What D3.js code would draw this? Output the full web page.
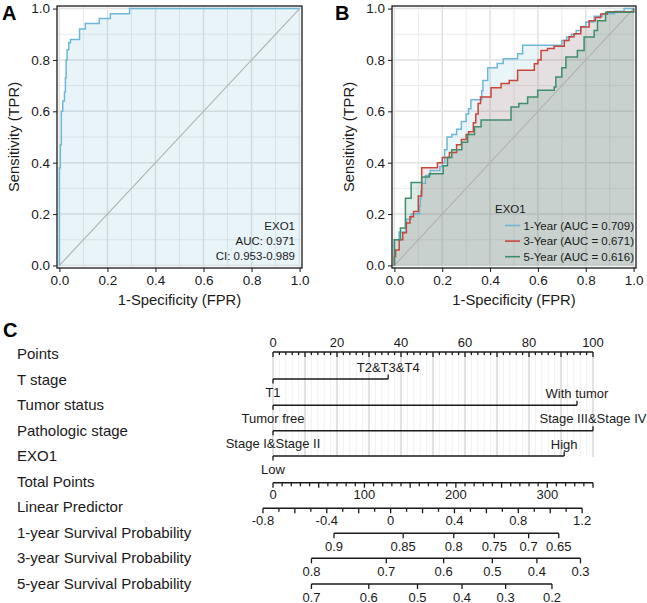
<!DOCTYPE html>
<html>
<head>
<meta charset="utf-8">
<script src="https://cdn.jsdelivr.net/npm/d3@7"></script>
<style>
  body { margin: 0; background: #fff; }
  svg { font-family: "Liberation Sans", Arial, sans-serif; }
</style>
</head>
<body>
<div id="chart"></div>
<script>
// ---- data ----
// panel A: ROC of EXO1 (fpr / tpr step corners)
const aFpr = [0, 0, 0.004, 0.008, 0.014, 0.021, 0.025, 0.028, 0.032, 0.039, 0.046, 0.084, 0.108, 0.166, 0.212, 0.292, 1.0];
const aTpr = [0, 0.38, 0.47, 0.60, 0.64, 0.675, 0.73, 0.80, 0.84, 0.867, 0.88, 0.92, 0.942, 0.961, 0.98, 1.0, 1.0];
const aLabels = ["EXO1", "AUC: 0.971", "CI: 0.953-0.989"];

// panel B: time dependent ROC
const y1Fpr = [0, 0, 0.02, 0.05, 0.07, 0.105, 0.108, 0.111, 0.114, 0.13, 0.15, 0.19, 0.2, 0.21, 0.22, 0.24, 0.26, 0.28, 0.3, 0.31, 0.32, 0.365, 0.37, 0.39, 0.43, 0.455, 0.515, 0.536, 0.7, 0.72, 0.74, 0.76, 0.78, 0.8, 0.835, 0.87, 0.92, 0.96, 1.0];
const y1Tpr = [0, 0.1, 0.13, 0.18, 0.2, 0.23, 0.26, 0.29, 0.32, 0.35, 0.37, 0.385, 0.4, 0.45, 0.5, 0.51, 0.53, 0.56, 0.59, 0.61, 0.645, 0.68, 0.72, 0.77, 0.786, 0.805, 0.824, 0.857, 0.876, 0.889, 0.9, 0.915, 0.93, 0.948, 0.97, 0.98, 0.99, 1.0, 1.0];
const y3Fpr = [0, 0, 0.005, 0.02, 0.035, 0.05, 0.065, 0.08, 0.1, 0.114, 0.18, 0.2, 0.23, 0.26, 0.28, 0.3, 0.31, 0.33, 0.34, 0.35, 0.36, 0.404, 0.446, 0.48, 0.515, 0.585, 0.6, 0.613, 0.64, 0.668, 0.71, 0.73, 0.751, 0.779, 0.814, 0.84, 0.8625, 0.89, 1.0];
const y3Tpr = [0, 0.035, 0.06, 0.1, 0.127, 0.165, 0.19, 0.21, 0.27, 0.38, 0.4, 0.42, 0.44, 0.47, 0.49, 0.51, 0.52, 0.555, 0.59, 0.63, 0.656, 0.692, 0.708, 0.72, 0.76, 0.785, 0.8, 0.837, 0.845, 0.853, 0.876, 0.89, 0.902, 0.928, 0.953, 0.965, 0.979, 0.988, 1.0];
const y5Fpr = [0, 0, 0.025, 0.046, 0.07, 0.114, 0.146, 0.204, 0.222, 0.24, 0.282, 0.306, 0.335, 0.3625, 0.42, 0.4875, 0.52, 0.557, 0.599, 0.668, 0.675, 0.7, 0.717, 0.765, 0.793, 0.835, 0.849, 0.883, 1.0];
const y5Tpr = [0, 0.1, 0.146, 0.262, 0.323, 0.344, 0.357, 0.388, 0.42, 0.45, 0.48, 0.51, 0.54, 0.566, 0.566, 0.617, 0.63, 0.656, 0.682, 0.695, 0.734, 0.77, 0.811, 0.837, 0.889, 0.915, 0.953, 0.986, 1.0];
const bSeries = ["1-Year (AUC = 0.709)", "3-Year (AUC = 0.671)", "5-Year (AUC = 0.616)"];
const bColors = ["#6cb8d6", "#c8453a", "#3e8e6c"];
const bFillOpacity = [0.14, 0.12, 0.17];

// panel C: nomogram
const rowNames = ["Points", "T stage", "Tumor status", "Pathologic stage", "EXO1", "Total Points",
  "Linear Predictor", "1-year Survival Probability", "3-year Survival Probability", "5-year Survival Probability"];
const tStageLevels = ["T1", "T2&T3&T4"], tStagePts = [0, 36];
const tumorLevels = ["Tumor free", "With tumor"], tumorPts = [0, 95];
const pathLevels = ["Stage I&Stage II", "Stage III&Stage IV"], pathPts = [0, 100];
const exoLevels = ["Low", "High"], exoPts = [0, 91];
const totalMax = 350;
const lpTicks = [-0.8, -0.4, 0, 0.4, 0.8, 1.2];
const lpAtZero = -0.737, lpAtMax = 1.268;   // linear predictor at total points 0 and 350
const surv1Ticks = [0.9, 0.85, 0.8, 0.75, 0.7, 0.65];
const surv3Ticks = [0.8, 0.7, 0.6, 0.5, 0.4, 0.3];
const surv5Ticks = [0.7, 0.6, 0.5, 0.4, 0.3, 0.2];
const baseSurv = [0.8605, 0.6932, 0.5567];   // baseline survival at 1, 3, 5 years

// ---- svg ----
const W = 647, H = 603;
const svg = d3.select("#chart").append("svg").attr("width", W).attr("height", H);
const ink = "#1a1a1a";

function rocPanel(left, right, letter, letterX) {
  const x = d3.scaleLinear().domain([-0.01, 1.01]).range([left, right]);
  const y = d3.scaleLinear().domain([-0.01, 1.01]).range([268, 6]);
  const g = svg.append("g");
  // grid
  const minor = d3.range(0.1, 1, 0.2), major = d3.range(0, 1.01, 0.2);
  g.selectAll(".gx").data(minor).enter().append("line")
    .attr("x1", d => x(d)).attr("x2", d => x(d)).attr("y1", y.range()[0]).attr("y2", y.range()[1])
    .attr("stroke", "#eaeaea").attr("stroke-width", 1);
  g.selectAll(".gy").data(minor).enter().append("line")
    .attr("y1", d => y(d)).attr("y2", d => y(d)).attr("x1", left).attr("x2", right)
    .attr("stroke", "#eaeaea").attr("stroke-width", 1);
  g.selectAll(".Gx").data(major).enter().append("line")
    .attr("x1", d => x(d)).attr("x2", d => x(d)).attr("y1", y.range()[0]).attr("y2", y.range()[1])
    .attr("stroke", "#e1e1e1").attr("stroke-width", 1.5);
  g.selectAll(".Gy").data(major).enter().append("line")
    .attr("y1", d => y(d)).attr("y2", d => y(d)).attr("x1", left).attr("x2", right)
    .attr("stroke", "#e1e1e1").attr("stroke-width", 1.5);
  // axes
  const fmt = d3.format(".1f");
  g.append("g").attr("transform", `translate(0,${y.range()[0]})`)
    .call(d3.axisBottom(x).tickValues(major).tickFormat(fmt).tickSize(4).tickPadding(3))
    .call(a => a.select(".domain").remove())
    .call(a => a.selectAll("text").attr("font-size", 13.5).attr("fill", ink).attr("font-family", null))
    .call(a => a.selectAll("line").attr("stroke", ink));
  g.append("g").attr("transform", `translate(${left},0)`)
    .call(d3.axisLeft(y).tickValues(major).tickFormat(fmt).tickSize(4).tickPadding(3))
    .call(a => a.select(".domain").remove())
    .call(a => a.selectAll("text").attr("font-size", 13.5).attr("fill", ink).attr("font-family", null))
    .call(a => a.selectAll("line").attr("stroke", ink));
  g.append("text").attr("x", (left + right) / 2).attr("y", 305).attr("text-anchor", "middle")
    .attr("font-size", 14.8).attr("fill", ink).text("1-Specificity (FPR)");
  g.append("text").attr("transform", `translate(${left - 38},137) rotate(-90)`).attr("text-anchor", "middle")
    .attr("font-size", 14.8).attr("fill", ink).text("Sensitivity (TPR)");
  g.append("text").attr("x", letterX).attr("y", 20).attr("font-size", 20).attr("font-weight", "bold")
    .attr("fill", "#000").text(letter);
  return {g, x, y};
}

function drawRoc(p, fpr, tpr, color, op) {
  const pts = fpr.map((f, i) => [f, tpr[i]]);
  const area = d3.area().curve(d3.curveStepAfter)
    .x(d => p.x(d[0])).y0(p.y(0)).y1(d => p.y(d[1]));
  p.g.append("path").datum(pts).attr("d", area).attr("fill", color).attr("fill-opacity", op);
  return pts;
}
function drawRocLine(p, pts, color) {
  const line = d3.line().curve(d3.curveStepAfter).x(d => p.x(d[0])).y(d => p.y(d[1]));
  p.g.append("path").datum(pts).attr("d", line).attr("fill", "none")
    .attr("stroke", color).attr("stroke-width", 1.5);
}
function diag(p) {
  p.g.append("line").attr("x1", p.x(0)).attr("y1", p.y(0)).attr("x2", p.x(1)).attr("y2", p.y(1))
    .attr("stroke", "#b0b0b0").attr("stroke-width", 1.1);
}
function frame(p) {
  p.g.append("rect").attr("x", p.x.range()[0]).attr("y", p.y.range()[1])
    .attr("width", p.x.range()[1] - p.x.range()[0]).attr("height", p.y.range()[0] - p.y.range()[1])
    .attr("fill", "none").attr("stroke", ink).attr("stroke-width", 1.3);
}

// panel A
const pA = rocPanel(57, 302, "A", 2);
const ptsA = drawRoc(pA, aFpr, aTpr, "#6cb8d6", 0.15);
diag(pA);
drawRocLine(pA, ptsA, "#6cb8d6");
frame(pA);
pA.g.selectAll(".ann").data(aLabels).enter().append("text")
  .attr("x", 295).attr("y", (d, i) => 230 + i * 15).attr("text-anchor", "end")
  .attr("font-size", 11.5).attr("fill", ink).text(d => d);

// panel B
const pB = rocPanel(392, 636, "B", 335);
const bData = [[y1Fpr, y1Tpr], [y3Fpr, y3Tpr], [y5Fpr, y5Tpr]];
const bPts = bData.map((d, i) => drawRoc(pB, d[0], d[1], bColors[i], bFillOpacity[i]));
diag(pB);
bPts.forEach((pts, i) => drawRocLine(pB, pts, bColors[i]));
frame(pB);
pB.g.append("text").attr("x", 495).attr("y", 212.5).attr("font-size", 11.5).attr("fill", ink).text("EXO1");
const leg = pB.g.selectAll(".leg").data(bSeries).enter().append("g")
  .attr("transform", (d, i) => `translate(0,${229.5 + i * 15.6})`);
leg.append("line").attr("x1", 505).attr("x2", 520).attr("y1", -4).attr("y2", -4)
  .attr("stroke", (d, i) => bColors[i]).attr("stroke-width", 1.6);
leg.append("text").attr("x", 523.5).attr("font-size", 11.5).attr("fill", ink).text(d => d);

// panel C: nomogram
const gC = svg.append("g");
gC.append("text").attr("x", 3).attr("y", 337).attr("font-size", 20).attr("font-weight", "bold").text("C");
const rowBase = 359, rowStep = 25.5;
gC.selectAll(".rowname").data(rowNames).enter().append("text")
  .attr("x", 17).attr("y", (d, i) => rowBase + i * rowStep)
  .attr("font-size", 15).attr("fill", ink).text(d => d);

const xPts = d3.scaleLinear().domain([0, 100]).range([273, 593]);
const xTot = d3.scaleLinear().domain([0, totalMax]).range(xPts.range());
const xLp = d3.scaleLinear().domain([lpAtZero, lpAtMax]).range(xPts.range());
const lineY = [352, 379, 405.3, 430.7, 456, 482.7, 508.3, 533.3, 558.3, 584];

// vertical guide lines
gC.selectAll(".vminor").data(d3.range(0, 101, 2)).enter().append("line")
  .attr("x1", d => xPts(d)).attr("x2", d => xPts(d)).attr("y1", lineY[0]).attr("y2", 457)
  .attr("stroke", d => d % 10 === 0 ? "#cfcfcf" : "#ececec").attr("stroke-width", d => d % 10 === 0 ? 1.2 : 0.8);

function hline(g, x1, x2, y) {
  g.append("line").attr("x1", x1).attr("x2", x2).attr("y1", y).attr("y2", y)
    .attr("stroke", ink).attr("stroke-width", 1.5);
}
function tick(g, x, y, len) {
  g.append("line").attr("x1", x).attr("x2", x).attr("y1", y).attr("y2", y + len)
    .attr("stroke", ink).attr("stroke-width", 1.3);
}
function label(g, x, y, t) {
  g.append("text").attr("x", x).attr("y", y).attr("text-anchor", "middle")
    .attr("font-size", 13).attr("fill", ink).text(t);
}

// Points axis
hline(gC, xPts(0), xPts(100), lineY[0]);
d3.range(0, 101, 2).forEach(v => tick(gC, xPts(v), lineY[0], v % 10 === 0 ? 5 : 3));
d3.range(0, 101, 20).forEach(v => label(gC, xPts(v), lineY[0] - 5.5, v));

// categorical rows
[[tStageLevels, tStagePts], [tumorLevels, tumorPts], [pathLevels, pathPts], [exoLevels, exoPts]]
  .forEach((row, r) => {
    const y = lineY[r + 1];
    const [levels, pts] = row;
    hline(gC, xPts(pts[0]), xPts(pts[1]), y);
    tick(gC, xPts(pts[0]), y, 4.5);
    tick(gC, xPts(pts[1]), y, -4.5);
    label(gC, xPts(pts[0]), y + 17.5, levels[0]);
    label(gC, xPts(pts[1]), y - 7.5, levels[1]);
  });

// Total points
hline(gC, xTot(0), xTot(totalMax), lineY[5]);
d3.range(0, totalMax + 1, 10).forEach(v => tick(gC, xTot(v), lineY[5], v % 50 === 0 ? 5 : 3.5));
d3.range(0, 301, 100).forEach(v => label(gC, xTot(v), lineY[5] + 16.5, v));

// Linear predictor
hline(gC, xLp(-0.8), xLp(1.2), lineY[6]);
d3.range(-8, 13, 1).forEach(v => tick(gC, xLp(v / 10), lineY[6], v % 2 === 0 ? 5 : 3.5));
lpTicks.forEach(v => label(gC, xLp(v), lineY[6] + 16.5, v));

// survival probabilities: lp = log(-log S) - log(-log S0)
[surv1Ticks, surv3Ticks, surv5Ticks].forEach((ticks, r) => {
  const y = lineY[7 + r];
  const toLp = s => Math.log(-Math.log(s)) - Math.log(-Math.log(baseSurv[r]));
  const xs = ticks.map(s => xLp(toLp(s)));
  hline(gC, d3.min(xs), d3.max(xs), y);
  ticks.forEach((s, i) => { tick(gC, xs[i], y, 5); label(gC, xs[i], y + 17.5, s); });
});
</script>
</body>
</html>
